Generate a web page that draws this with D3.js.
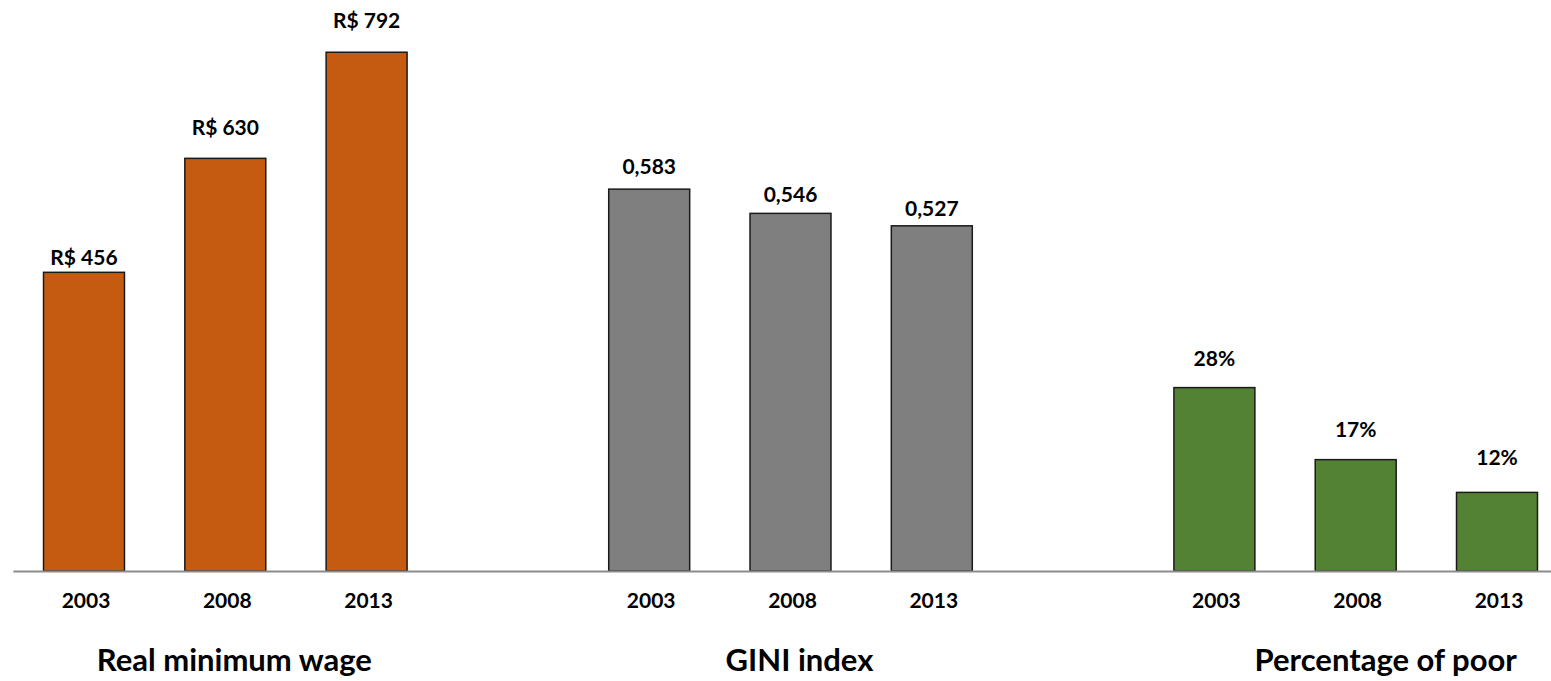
<!DOCTYPE html>
<html>
<head>
<meta charset="utf-8">
<script src="https://cdn.jsdelivr.net/npm/d3@7"></script>
<style>
  html, body { margin: 0; padding: 0; background: #fff; }
  svg { display: block; }
  text { font-family: Lato, "Open Sans", sans-serif; font-weight: bold; fill: #000; }
</style>
</head>
<body>
<svg id="chart" width="1551" height="681"></svg>
<script>
// Years shown in every panel
const years = ["2003", "2008", "2013"];

// Real minimum wage (R$)
const wageValues = [456, 630, 792];
const wageLabels = ["R$ 456", "R$ 630", "R$ 792"];

// GINI index
const giniValues = [0.583, 0.546, 0.527];
const giniLabels = ["0,583", "0,546", "0,527"];

// Share of population below the poverty line
const poorValues = [0.28, 0.17, 0.12];
const poorLabels = ["28%", "17%", "12%"];

// Panel titles
const groupTitles = ["Real minimum wage", "GINI index", "Percentage of poor"];

// ---- layout / style ----
const W = 1551, H = 681;
const baseY = 571;          // baseline of the bars
const unitPx = 655;         // pixels per full unit of each panel's domain
const colors = ["#C55A11", "#7F7F7F", "#548235"];
const labelGap = [[7, 23, 24], [15, 11, 10], [22, 23, 27]];  // space between bar top and its value label
const titleShift = [9, 9, 30];

const svg = d3.select("#chart");

// One panel per indicator, each on its own value scale
const groups = [
  { key: "wage", values: wageValues, labels: wageLabels, y: d3.scaleLinear().domain([0, 1000]).range([baseY, baseY - unitPx]) },
  { key: "gini", values: giniValues, labels: giniLabels, y: d3.scaleLinear().domain([0, 1]).range([baseY, baseY - unitPx]) },
  { key: "poor", values: poorValues, labels: poorLabels, y: d3.scaleLinear().domain([0, 1]).range([baseY, baseY - unitPx]) }
];

// Category slots: three years per panel, with an empty slot between panels
const slots = [];
groups.forEach((g, gi) => {
  years.forEach(yr => slots.push(g.key + "|" + yr));
  if (gi < groups.length - 1) slots.push("gap" + gi);
});

const x = d3.scaleBand()
  .domain(slots)
  .range([13.35, 1567.65])
  .paddingInner(0.427)
  .paddingOuter(0.2135);

// Bars, value labels and year labels
groups.forEach((g, gi) => {
  const rows = years.map((yr, i) => ({ slot: g.key + "|" + yr, year: yr, value: g.values[i], label: g.labels[i], gap: labelGap[gi][i] }));
  const layer = svg.append("g").attr("class", "group-" + g.key);

  layer.selectAll("rect")
    .data(rows)
    .join("rect")
    .attr("x", d => x(d.slot))
    .attr("y", d => g.y(d.value))
    .attr("width", x.bandwidth())
    .attr("height", d => g.y(0) - g.y(d.value))
    .attr("fill", colors[gi])
    .attr("stroke", "#1a1a1a")
    .attr("stroke-width", 1.5);

  layer.selectAll("text.value")
    .data(rows)
    .join("text")
    .attr("class", "value")
    .attr("x", d => x(d.slot) + x.bandwidth() / 2)
    .attr("y", d => g.y(d.value) - d.gap)
    .attr("text-anchor", "middle")
    .style("font-size", "21px")
    .text(d => d.label);

  layer.selectAll("text.year")
    .data(rows)
    .join("text")
    .attr("class", "year")
    .attr("x", d => x(d.slot) + x.bandwidth() / 2 + 2)
    .attr("y", 608)
    .attr("text-anchor", "middle")
    .style("font-size", "21px")
    .text(d => d.year);

  const mid = g.key + "|" + years[1];
  svg.append("text")
    .attr("x", x(mid) + x.bandwidth() / 2 + titleShift[gi])
    .attr("y", 671)
    .attr("text-anchor", "middle")
    .style("font-size", "31px")
    .text(groupTitles[gi]);
});

// Category axis line
svg.append("line")
  .attr("x1", x.range()[0])
  .attr("x2", x.range()[1])
  .attr("y1", baseY + 0.5)
  .attr("y2", baseY + 0.5)
  .attr("stroke", "#8c8c8c")
  .attr("stroke-width", 2);
</script>
</body>
</html>
